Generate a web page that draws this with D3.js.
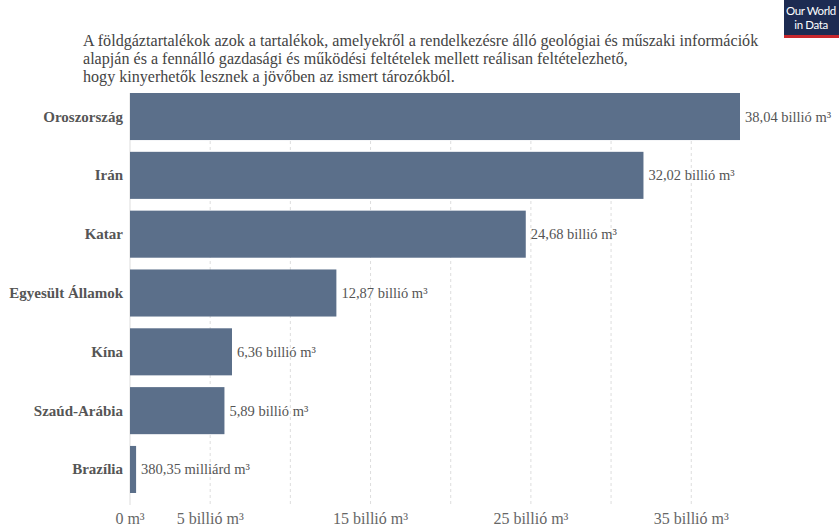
<!DOCTYPE html>
<html><head><meta charset="utf-8">
<script src="https://cdn.jsdelivr.net/npm/d3@7"></script>
<style>body{margin:0;background:#fff}svg{display:block}</style>
</head><body>
<svg id="c" width="839" height="528"></svg>
<script>
const categories = ["Oroszország","Irán","Katar","Egyesült Államok","Kína","Szaúd-Arábia","Brazília"];
const values = [38.04, 32.02, 24.68, 12.87, 6.36, 5.89, 0.38035];
const valueLabels = ["38,04 billió m³","32,02 billió m³","24,68 billió m³","12,87 billió m³","6,36 billió m³","5,89 billió m³","380,35 milliárd m³"];
const gridTicks = [0,5,10,15,20,25,30,35];
const tickLabels = [{v:0,t:"0 m³"},{v:5,t:"5 billió m³"},{v:15,t:"15 billió m³"},{v:25,t:"25 billió m³"},{v:35,t:"35 billió m³"}];
const titleLines = [
 "A földgáztartalékok azok a tartalékok, amelyekről a rendelkezésre álló geológiai és műszaki információk",
 "alapján és a fennálló gazdasági és működési feltételek mellett reálisan feltételezhető,",
 "hogy kinyerhetők lesznek a jövőben az ismert tározókból."
];

const svg = d3.select("#c");
const x = d3.scaleLinear().domain([0,38.04]).range([130,740]);
const y = d3.scaleBand().domain(categories).range([93,493]).paddingInner(0.2).paddingOuter(0);

// title
svg.append("g").selectAll("text").data(titleLines).join("text")
  .attr("x",83).attr("y",(d,i)=>46+i*18)
  .attr("font-family","Liberation Serif, serif").attr("font-size",16.1)
  .attr("fill","#444").text(d=>d);

// logo
const logo = svg.append("g");
logo.append("rect").attr("x",784).attr("y",0).attr("width",55).attr("height",35).attr("fill","#1d2b52");
logo.append("rect").attr("x",784).attr("y",35).attr("width",55).attr("height",3).attr("fill","#c8272d");
logo.append("text").attr("x",811).attr("y",15).attr("text-anchor","middle").attr("font-family","Lato, sans-serif").attr("font-size",11.5).attr("fill","#fff").attr("letter-spacing",-0.4).text("Our World");
logo.append("text").attr("x",811).attr("y",29).attr("text-anchor","middle").attr("font-family","Lato, sans-serif").attr("font-size",11.5).attr("fill","#fff").attr("letter-spacing",-0.4).text("in Data");

// grid
svg.append("g").selectAll("line").data(gridTicks).join("line")
  .attr("x1",d=>x(d)).attr("x2",d=>x(d)).attr("y1",93).attr("y2",505)
  .attr("stroke","#ddd").attr("stroke-width",1).attr("stroke-dasharray",d=>d===0?null:"3,3");

// bars
svg.append("g").selectAll("rect").data(categories).join("rect")
  .attr("x",x(0)).attr("y",d=>y(d)).attr("height",y.bandwidth())
  .attr("width",(d,i)=>x(values[i])-x(0)).attr("fill","#5b6f8a");

// category labels
svg.append("g").selectAll("text").data(categories).join("text")
  .attr("x",123).attr("y",d=>y(d)+y.bandwidth()/2+5)
  .attr("text-anchor","end").attr("font-family","Liberation Serif, serif")
  .attr("font-weight","bold").attr("font-size",15).attr("fill","#555").text(d=>d);

// value labels
svg.append("g").selectAll("text").data(categories).join("text")
  .attr("x",(d,i)=>x(values[i])+5).attr("y",d=>y(d)+y.bandwidth()/2+5)
  .attr("font-family","Liberation Serif, serif").attr("font-size",14.5)
  .attr("fill","#555").text((d,i)=>valueLabels[i]);

// axis labels
svg.append("g").selectAll("text").data(tickLabels).join("text")
  .attr("x",d=>x(d.v)).attr("y",524).attr("text-anchor","middle")
  .attr("font-family","Liberation Serif, serif").attr("font-size",16)
  .attr("fill","#666").text(d=>d.t);
</script>
</body></html>
